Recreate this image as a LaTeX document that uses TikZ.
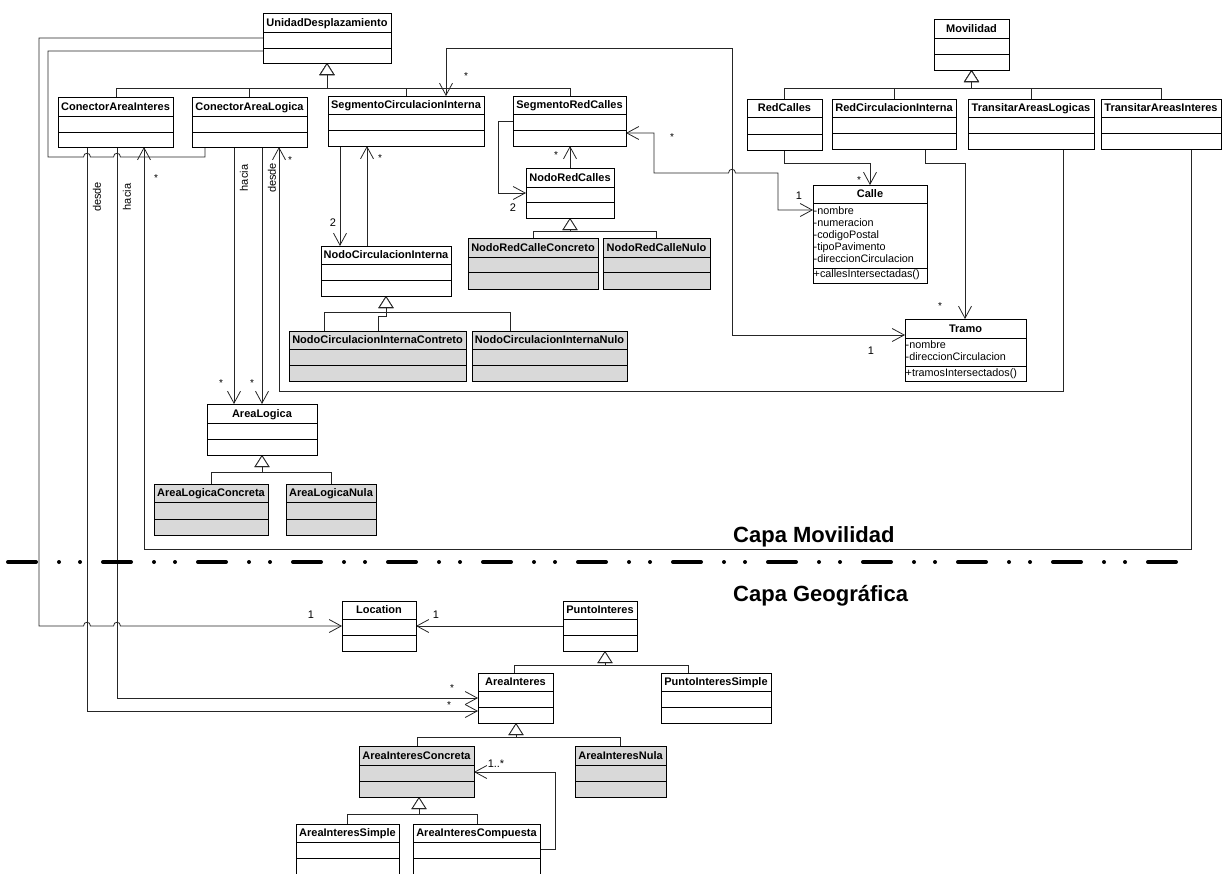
\documentclass[tikz,border=0pt]{standalone}
\usepackage{fontspec}
\setmainfont{Liberation Sans}
\usetikzlibrary{arrows.meta,backgrounds}

\tikzset{
  cls/.style={draw=black, line width=1pt, fill=white, inner sep=0pt, outer sep=0pt},
  clsgray/.style={cls, fill=black!15},
  sepline/.style={line width=0.9pt, draw=black},
  ttl/.style={font=\fontsize{11}{13}\selectfont\bfseries, inner sep=0pt, anchor=base},
  attr/.style={font=\fontsize{10.8}{12}\selectfont, inner sep=0pt, anchor=base west},
  conn/.style={line width=0.8pt, draw=black!85},
  >={Straight Barb[length=12pt,width=13pt]},
  nav/.style={conn, ->},
  nav2/.style={conn, <->},
  gen/.style={line width=0.8pt, draw=black!85, -{Triangle[length=12pt,width=15pt,fill=white]}},
  mult/.style={font=\fontsize{11}{12}\selectfont, inner sep=0pt},
  star/.style={font=\fontsize{10}{12}\selectfont, inner sep=0pt},
  role/.style={font=\fontsize{11}{12}\selectfont, inner sep=0pt, rotate=90},
  layer/.style={font=\fontsize{22}{26}\selectfont\bfseries, inner sep=0pt, anchor=base west},
  layersep/.style={line width=4pt, line cap=round,
    dash pattern=on 28pt off 23pt on 0pt off 21pt on 0pt off 23pt},
}

% UML class box: name, style, x1, y1, x2, y2, first separator, second separator, title
\newcommand\umlclass[9]{%
  \node[#2, anchor=north west, minimum width={(#5-#3)*1pt}, minimum height={(#6-#4)*1pt}] (#1) at (#3,#4) {};
  \draw[sepline] (#3,#7) -- (#5,#7) (#3,#8) -- (#5,#8);
  \node[ttl] (#1-name) at ({(#3+#5)/2},{#7-6}) {#9};
}

\begin{document}
\begin{tikzpicture}[x=1pt, y=-1pt]
\useasboundingbox (0,0) rectangle (1225,873);

% ---- Capa Movilidad ----
\umlclass{ud}{cls}{263}{13}{391}{63}{32}{48}{UnidadDesplazamiento}
\umlclass{cai}{cls}{58}{97}{173}{147}{116}{132}{ConectorAreaInteres}
\umlclass{cal}{cls}{192}{97}{307}{147}{116}{132}{ConectorAreaLogica}
\umlclass{sci}{cls}{328}{96}{484}{146}{114}{130}{SegmentoCirculacionInterna}
\umlclass{src}{cls}{513}{96}{626}{146}{114}{130}{SegmentoRedCalles}

\umlclass{mov}{cls}{934}{19}{1009}{70}{38}{54}{Movilidad}
\umlclass{rc}{cls}{747}{99}{822}{150}{117}{134}{RedCalles}
\umlclass{rci}{cls}{832}{99}{956}{149}{117}{133}{RedCirculacionInterna}
\umlclass{tal}{cls}{968}{99}{1094}{149}{117}{133}{TransitarAreasLogicas}
\umlclass{tai}{cls}{1101}{99}{1221}{149}{117}{133}{TransitarAreasInteres}

\umlclass{calle}{cls}{813}{185}{927}{283}{203}{268}{Calle}
\node[attr] (calle-a1) at (813.5,214.5) {-nombre};
\node[attr] (calle-a2) at (813.5,226.5) {-numeracion};
\node[attr] (calle-a3) at (813.5,238.5) {-codigoPostal};
\node[attr] (calle-a4) at (813.5,250.5) {-tipoPavimento};
\node[attr] (calle-a5) at (813.5,262.5) {-direccionCirculacion};
\node[attr] (calle-o1) at (813.5,277.5) {+callesIntersectadas()};

\umlclass{tramo}{cls}{905}{319}{1026}{381}{338}{366}{Tramo}
\node[attr] (tramo-a1) at (905.5,348.5) {-nombre};
\node[attr] (tramo-a2) at (905.5,360.5) {-direccionCirculacion};
\node[attr] (tramo-o1) at (905.5,376) {+tramosIntersectados()};

\umlclass{nrc}{cls}{526}{168}{614}{218}{187}{202}{NodoRedCalles}
\umlclass{nrcc}{clsgray}{468}{238}{598}{289}{257}{272}{NodoRedCalleConcreto}
\umlclass{nrcn}{clsgray}{603}{238}{710}{289}{257}{272}{NodoRedCalleNulo}

\umlclass{nci}{cls}{321}{246}{451}{296}{264}{280}{NodoCirculacionInterna}
\umlclass{ncic}{clsgray}{289}{331}{466}{381}{349}{365}{NodoCirculacionInternaContreto}
\umlclass{ncin}{clsgray}{472}{331}{627}{381}{349}{365}{NodoCirculacionInternaNulo}

\umlclass{al}{cls}{207}{404}{317}{455}{423}{439}{AreaLogica}
\umlclass{alc}{clsgray}{154}{484}{268}{535}{502}{519}{AreaLogicaConcreta}
\umlclass{aln}{clsgray}{286}{484}{376}{535}{502}{519}{AreaLogicaNula}

% ---- Capa Geografica ----
\umlclass{loc}{cls}{342}{601}{416}{651}{619}{635}{Location}
\umlclass{pi}{cls}{563}{601}{637}{651}{619}{635}{PuntoInteres}
\umlclass{ai}{cls}{478}{673}{553}{723}{691}{707}{AreaInteres}
\umlclass{pis}{cls}{661}{673}{771}{723}{691}{707}{PuntoInteresSimple}
\umlclass{aic}{clsgray}{359}{746}{474}{797}{765}{781}{AreaInteresConcreta}
\umlclass{ain}{clsgray}{575}{746}{666}{797}{765}{781}{AreaInteresNula}
\umlclass{ais}{cls}{296}{824}{399}{876}{842}{858}{AreaInteresSimple}
\umlclass{aicomp}{cls}{413}{824}{540}{876}{842}{858}{AreaInteresCompuesta}

% ---- layer titles and separator ----
\node[layer] (capamov) at (733,542) {Capa Movilidad};
\node[layer] (capageo) at (733,601) {Capa Geográfica};
\draw[layersep] (8,562) -- (1176,562);

% ---- role names ----
\node[role] (cai-desde) at (97,197) {desde};
\node[role] (cai-hacia) at (127,197) {hacia};
\node[role] (cal-hacia) at (244,178) {hacia};
\node[role] (cal-desde) at (272,178) {desde};

% ---- multiplicities ----
\node[star] (m1) at (466,76) {*};
\node[star] (m2) at (672,137) {*};
\node[star] (m3) at (859,180) {*};
\node[star] (m4) at (940,306) {*};
\node[star] (m5) at (380,158) {*};
\node[star] (m6) at (556,155) {*};
\node[star] (m7) at (221,383) {*};
\node[star] (m8) at (252,383) {*};
\node[star] (m9) at (290,160) {*};
\node[star] (m10) at (156,178) {*};
\node[star] (m11) at (452,688) {*};
\node[star] (m12) at (449,705) {*};
\node[mult] (m13) at (799,196) {1};
\node[mult] (m14) at (871,351) {1};
\node[mult] (m15) at (311,615) {1};
\node[mult] (m16) at (436,615) {1};
\node[mult] (m17) at (333,223) {2};
\node[mult] (m18) at (513,208) {2};
\node[mult] (m19) at (496,764) {1..*};

\begin{pgfonlayer}{background}
% generalisations
\foreach \c/\x in {cai/116, cal/249, sci/406, src/570}
  \draw[gen] (\x,0 |- \c.north) -- (\x,88) -- (327,88) -- (ud.south);
\foreach \c/\x in {rc/784, rci/894, tal/1031, tai/1161}
  \draw[gen] (\x,0 |- \c.north) -- (\x,88) -- (971.5,88) -- (mov.south);
\foreach \c/\x in {alc/211, aln/331}
  \draw[gen] (\x,0 |- \c.north) -- (\x,472) -- (262,472) -- (al.south);
\foreach \c/\x in {nrcc/533, nrcn/656}
  \draw[gen] (\x,0 |- \c.north) -- (\x,231) -- (570,231) -- (nrc.south);
\draw[gen] (324,0 |- ncic.north) -- (324,312) -- (386,312) -- (nci.south);
\draw[gen] (378,0 |- ncic.north) -- (378,316) -- (386,316) -- (nci.south);
\draw[gen] (510,0 |- ncin.north) -- (510,312) -- (386,312) -- (nci.south);
\foreach \c/\x in {ai/514, pis/688}
  \draw[gen] (\x,0 |- \c.north) -- (\x,665) -- (605,665) -- (605,0 |- pi.south);
\foreach \c/\x in {aic/417, ain/620}
  \draw[gen] (\x,0 |- \c.north) -- (\x,737) -- (516,737) -- (516,0 |- ai.south);
\foreach \c/\x in {ais/347, aicomp/477}
  \draw[gen] (\x,0 |- \c.north) -- (\x,814) -- (419,814) -- (419,0 |- aic.south);

% associations
\draw[conn] (205,0 |- cal.south) -- (205,157) -- (120.5,157)
  .. controls (120.5,152) and (113.5,152) .. (113.5,157) -- (90.5,157)
  .. controls (90.5,152) and (83.5,152) .. (83.5,157) -- (48,157) -- (48,51) -- (ud.west |- 0,51);
\draw[nav] (ud.west |- 0,38) -- (39,38) -- (39,626) -- (83.5,626)
  .. controls (83.5,621) and (90.5,621) .. (90.5,626) -- (113.5,626)
  .. controls (113.5,621) and (120.5,621) .. (120.5,626) -- (loc.west |- 0,626);
\draw[nav] (87,0 |- cai.south) -- (87,711) -- (ai.west |- 0,711);
\draw[nav] (117,0 |- cai.south) -- (117,698) -- (ai.west |- 0,698);
\draw[nav] (1191,0 |- tai.south) -- (1191,549) -- (144,549) -- (144,0 |- cai.south);
\draw[nav] (234,0 |- cal.south) -- (234,0 |- al.north);
\draw[nav] (262,0 |- cal.south) -- (262,0 |- al.north);
\draw[nav] (1063,0 |- tal.south) -- (1063,391) -- (279,391) -- (279,0 |- cal.south);
\draw[nav2] (tramo.west |- 0,335) -- (732,335) -- (732,48) -- (446,48) -- (446,0 |- sci.north);
\draw[nav2] (src.east |- 0,133) -- (654,133) -- (654,173) -- (728.5,173)
  .. controls (728.5,168) and (735.5,168) .. (735.5,173) -- (778,173) -- (778,210) -- (calle.west |- 0,210);
\draw[nav] (784,0 |- rc.south) -- (784,163) -- (870,163) -- (870,0 |- calle.north);
\draw[nav] (925,0 |- rci.south) -- (925,163) -- (965,163) -- (965,0 |- tramo.north);
\draw[nav] (340,0 |- sci.south) -- (340,0 |- nci.north);
\draw[nav] (367,0 |- nci.north) -- (367,0 |- sci.south);
\draw[nav] (src.west |- 0,121) -- (498,121) -- (498,193) -- (nrc.west |- 0,193);
\draw[nav] (570,0 |- nrc.north) -- (570,0 |- src.south);
\draw[nav] (pi.west |- 0,626) -- (loc.east |- 0,626);
\draw[nav] (aicomp.east |- 0,849) -- (555,849) -- (555,772) -- (aic.east |- 0,772);
\end{pgfonlayer}
\end{tikzpicture}
\end{document}
